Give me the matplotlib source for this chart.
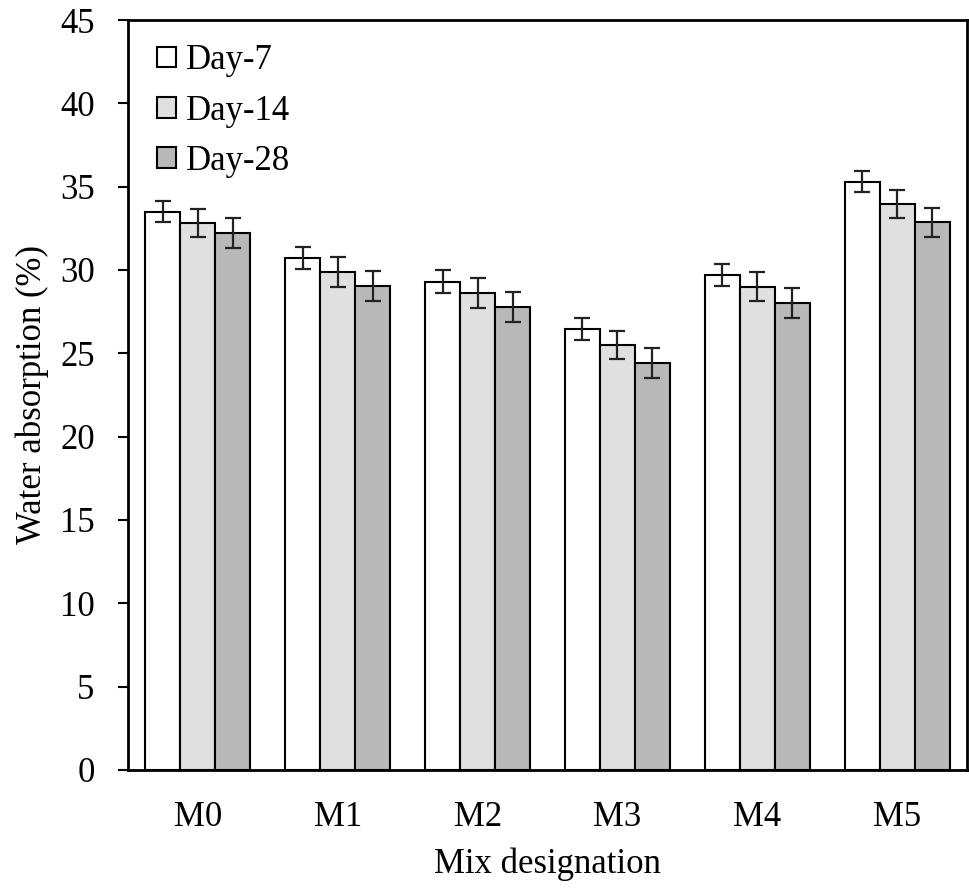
import numpy as np
import matplotlib
matplotlib.use('Agg')
import matplotlib.pyplot as plt

plt.rcParams['font.family'] = ['Liberation Serif', 'DejaVu Serif']

mixes = ['M0', 'M1', 'M2', 'M3', 'M4', 'M5']
days = ['Day-7', 'Day-14', 'Day-28']

day7 = [33.5, 30.7, 29.3, 26.45, 29.7, 35.3]
day14 = [32.8, 29.9, 28.6, 25.5, 29.0, 33.95]
day28 = [32.2, 29.05, 27.8, 24.4, 28.0, 32.85]

err7 = [0.65, 0.65, 0.7, 0.65, 0.65, 0.65]
err14 = [0.85, 0.9, 0.9, 0.85, 0.85, 0.85]
err28 = [0.9, 0.9, 0.9, 0.9, 0.9, 0.85]

colors = ['#ffffff', '#e0e0e0', '#b8b8b8']

fig = plt.figure(figsize=(9.69, 8.89), dpi=100)
ax = fig.add_axes([0.1321, 0.1339, 0.8659, 0.8436])

x = np.arange(len(mixes))
w = 0.25
series = [(day7, err7), (day14, err14), (day28, err28)]
for i, (vals, errs) in enumerate(series):
    ax.bar(x + (i - 1) * w, vals, w, color=colors[i], edgecolor='black',
           linewidth=1.5, label=days[i], zorder=2)
    ax.errorbar(x + (i - 1) * w, vals, yerr=errs, fmt='none',
                ecolor='#222222', elinewidth=1.6, capsize=5.5,
                capthick=1.6, zorder=3)

ax.set_xlim(-0.5, 5.5)
ax.set_ylim(0, 45)
ax.set_yticks(range(0, 46, 5))
ax.set_xticks(x)
ax.set_xticklabels(mixes)
ax.tick_params(axis='x', length=0, pad=22, labelsize=25)
ax.tick_params(axis='y', length=7, width=1.5, direction='out', pad=17,
               labelsize=25)
for s in ax.spines.values():
    s.set_linewidth(2)

ax.set_xlabel('Mix designation', fontsize=25, labelpad=10)
ax.set_ylabel('Water absorption (%)', fontsize=25, labelpad=8)

ax.legend(loc='upper left', frameon=False, fontsize=25,
          handlelength=0.55, handleheight=0.55, handletextpad=0.3,
          labelspacing=0.5, borderaxespad=0.3,
          bbox_to_anchor=(0.005, 1.0))

fig.savefig('out.png', dpi=100)
